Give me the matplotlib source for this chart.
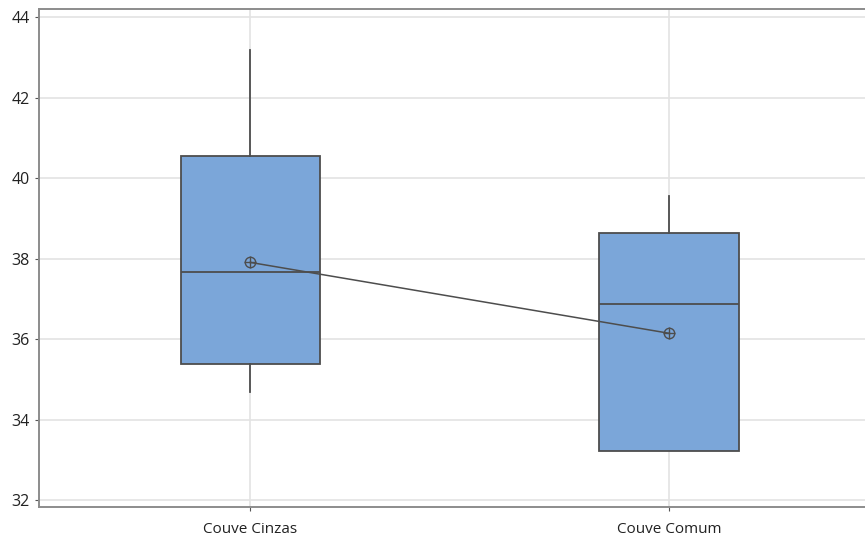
import numpy as np
import matplotlib.pyplot as plt

# values
groups = ["Couve Cinzas", "Couve Comum"]
q1 = [35.38, 33.22]
median = [37.67, 36.87]
q3 = [40.55, 38.63]
whislo = [34.68, 33.22]
whishi = [43.18, 39.55]
means = [37.91, 36.15]

plt.rcParams['font.family'] = ['Open Sans', 'DejaVu Sans']

fig = plt.figure(figsize=(8.65, 5.43), dpi=100)
ax = fig.add_axes([0.045, 0.066, 0.957, 0.917])

edge = '#4d4d4d'
stats = []
for i, g in enumerate(groups):
    stats.append(dict(label=g, q1=q1[i], med=median[i], q3=q3[i],
                      whislo=whislo[i], whishi=whishi[i], fliers=[]))

pos = np.arange(1, len(groups) + 1)
ax.bxp(stats, positions=pos, widths=0.333, patch_artist=True,
       showcaps=False, showfliers=False,
       boxprops=dict(facecolor='#7ba6d9', edgecolor=edge, linewidth=1.3),
       medianprops=dict(color=edge, linewidth=1.3),
       whiskerprops=dict(color=edge, linewidth=1.3), zorder=3)

# mean connect line and symbols
ax.plot(pos, means, color=edge, linewidth=1.1, zorder=4)
ax.plot(pos, means, linestyle='none', marker='o', markersize=7.5,
        markerfacecolor='none', markeredgecolor=edge, markeredgewidth=1, zorder=5)
ax.plot(pos, means, linestyle='none', marker='+', markersize=9,
        markeredgecolor=edge, markeredgewidth=1, zorder=5)

ax.set_xlim(0.495, 2.472)
ax.set_ylim(31.83, 44.2)
ax.set_yticks(np.arange(32, 45, 2))
ax.set_xticks(pos)
ax.set_xticklabels(groups)
ax.tick_params(axis='both', labelsize=11.5, color='#555555', length=3,
               labelcolor='#222222')
ax.tick_params(axis='x', labelsize=11, pad=8)

ax.grid(True, color='#e3e3e3', linewidth=1.2, zorder=0)
ax.set_axisbelow(True)
for s in ax.spines.values():
    s.set_color('#8c8c8c')
    s.set_linewidth(1.4)
ax.spines['right'].set_visible(False)

fig.savefig('out.png', dpi=100)
